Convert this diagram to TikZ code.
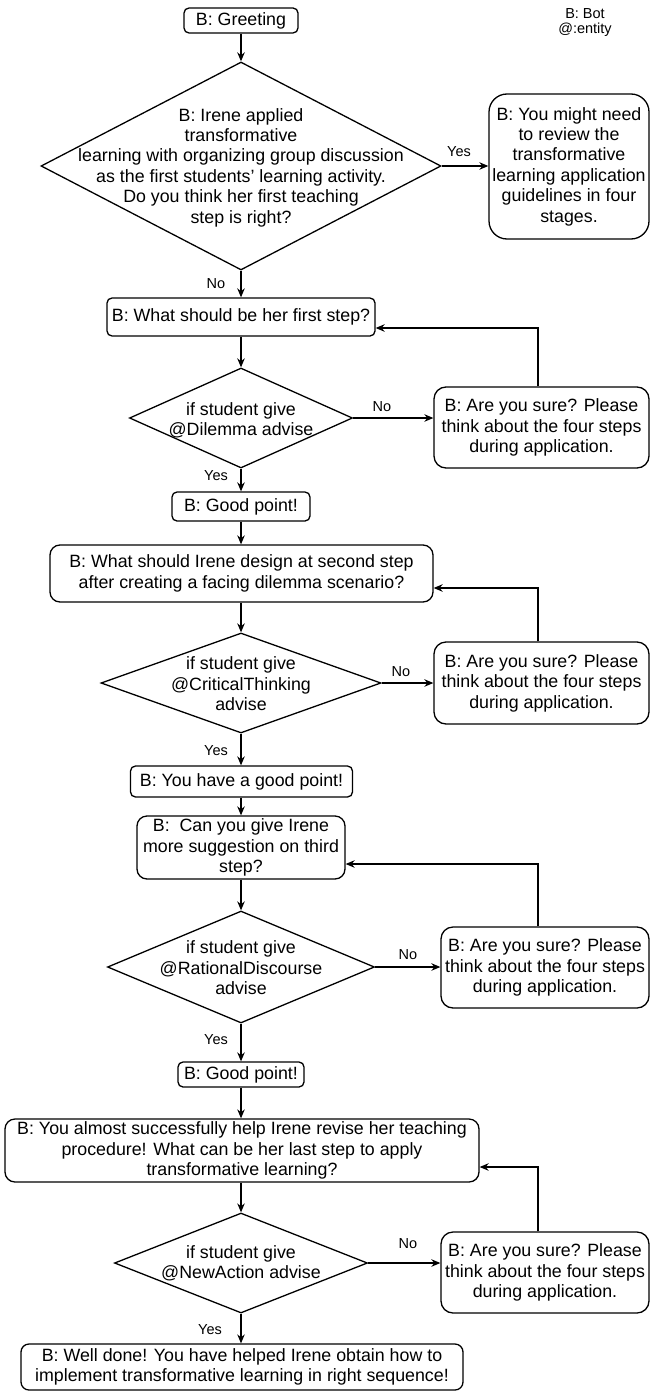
\documentclass[tikz,border=0pt]{standalone}
\usepackage{fontspec}
\setmainfont{Liberation Sans}
\usetikzlibrary{shapes.geometric,arrows.meta,calc}
\newcommand{\mainsz}{\fontsize{17.8}{20.4}\selectfont}
\newcommand{\lblsz}{\fontsize{14.5}{15}\selectfont}
\begin{document}
\begin{tikzpicture}[x=1pt,y=1pt,line width=1.3pt,
  box/.style={draw, rounded corners=5pt, align=center, inner sep=0pt, font=\mainsz},
  dia/.style={draw, diamond, inner sep=0pt},
  dtext/.style={align=center, inner sep=0pt, font=\mainsz},
  arr/.style={-{Stealth[length=9pt,width=7.5pt]}},
  lbl/.style={font=\lblsz, inner sep=0pt}]
\useasboundingbox (0,0) rectangle (650,-1391);

% legend
\node[lbl, align=center, font=\fontsize{14.5}{15}\selectfont] (legend) at (585,-22.5) {B: Bot\\@:entity};

% top
\node[box, minimum width=114, minimum height=25] (greet) at (241,-20.5) {B: Greeting};
\node[dia, minimum width=400, minimum height=208] (d1) at (241,-166) {};
\node[dtext] (t1) at (241,-167.5) {B: Irene applied\\transformative\\learning with organizing group discussion\\as the first students{\char"0027} learning activity.\\Do you think her first teaching\\step is right?};
\node[box, rounded corners=18pt, minimum width=160, minimum height=145] (yesbox) at (569,-166.5) {B: You might need\\to review the\\transformative\\learning application\\guidelines in four\\stages.};

% step 1
\node[box, minimum width=268, minimum height=38] (box2) at (241,-317) {B: What should be her first step?};
\node[dia, minimum width=223, minimum height=100] (d2) at (241,-418) {};
\node[dtext] (t2) at (241,-420) {if student give\\@Dilemma advise};
\node[box, rounded corners=12pt, minimum width=215, minimum height=81] (ays1) at (541.5,-427.5) {B: Are you sure? Please\\think about the four steps\\during application.};
\node[box, minimum width=138, minimum height=29] (gp1) at (241,-506.5) {B: Good point!};

% step 2
\node[box, rounded corners=10pt, minimum width=383, minimum height=57] (box3) at (241.5,-573.5) {B: What should Irene design at second step\\after creating a facing dilemma scenario?};
\node[dia, minimum width=280, minimum height=100] (d3) at (241,-683) {};
\node[dtext] (t3) at (241,-684) {if student give\\@CriticalThinking\\advise};
\node[box, rounded corners=12pt, minimum width=215, minimum height=82] (ays2) at (541.5,-683) {B: Are you sure? Please\\think about the four steps\\during application.};
\node[box, minimum width=222, minimum height=31] (gp2) at (241.5,-781.5) {B: You have a good point!};

% step 3
\node[box, rounded corners=10pt, minimum width=208, minimum height=63] (box4) at (241,-847.5) {B:\ \ Can you give Irene\\more suggestion on third\\step?};
\node[dia, minimum width=267, minimum height=112] (d4) at (241,-967) {};
\node[dtext] (t4) at (241,-968) {if student give\\@RationalDiscourse\\advise};
\node[box, rounded corners=12pt, minimum width=208, minimum height=81] (ays3) at (545,-967.5) {B: Are you sure? Please\\think about the four steps\\during application.};
\node[box, minimum width=126, minimum height=25] (gp3) at (241,-1074.5) {B: Good point!};

% step 4
\node[box, rounded corners=10pt, minimum width=474, minimum height=63] (box5) at (242,-1150.5) {B: You almost successfully help Irene revise her teaching\\procedure! What can be her last step to apply\\transformative learning?};
\node[dia, minimum width=253, minimum height=100] (d5) at (241,-1263) {};
\node[dtext] (t5) at (241,-1263) {if student give\\@NewAction advise};
\node[box, rounded corners=12pt, minimum width=208, minimum height=81] (ays4) at (545,-1272.5) {B: Are you sure? Please\\think about the four steps\\during application.};
\node[box, rounded corners=8pt, minimum width=442, minimum height=46] (final) at (242,-1367) {B: Well done! You have helped Irene obtain how to\\implement transformative learning in right sequence!};

% labels
\node[lbl] (lyes1) at (459,-152) {Yes};
\node[lbl] (lno1) at (216,-284) {No};
\node[lbl] (lno2) at (382,-407) {No};
\node[lbl] (lyes2) at (216,-476) {Yes};
\node[lbl] (lno3) at (401,-672) {No};
\node[lbl] (lyes3) at (216,-751) {Yes};
\node[lbl] (lno4) at (408,-955) {No};
\node[lbl] (lyes4) at (216,-1040) {Yes};
\node[lbl] (lno5) at (408,-1244) {No};
\node[lbl] (lyes5) at (210,-1330) {Yes};

% connectors
\draw[arr] (greet.south) -- (d1.north);
\draw[arr] (d1.east) -- (d1.east -| yesbox.west);
\draw[arr] (d1.south) -- (box2.north);
\draw[arr] (box2.south) -- (d2.north);
\draw[arr] (d2.east) -- (d2.east -| ays1.west);
\draw[arr] ([xshift=-3.5pt]ays1.north) |- ([yshift=-11pt]box2.east);
\draw[arr] (d2.south) -- (gp1.north);
\draw[arr] (gp1.south) -- (gp1.south |- box3.north);
\draw[arr] (box3.south -| d3.north) -- (d3.north);
\draw[arr] (d3.east) -- (d3.east -| ays2.west);
\draw[arr] ([xshift=-3.5pt]ays2.north) |- ([yshift=-14.5pt]box3.east);
\draw[arr] (d3.south) -- (d3.south |- gp2.north);
\draw[arr] (gp2.south -| box4.north) -- (box4.north);
\draw[arr] (box4.south) -- (d4.north);
\draw[arr] (d4.east) -- (d4.east -| ays3.west);
\draw[arr] ([xshift=-7pt]ays3.north) |- ([yshift=-16.5pt]box4.east);
\draw[arr] (d4.south) -- (gp3.north);
\draw[arr] (gp3.south) -- (gp3.south |- box5.north);
\draw[arr] (box5.south -| d5.north) -- (d5.north);
\draw[arr] (d5.east) -- (d5.east -| ays4.west);
\draw[arr] ([xshift=-7pt]ays4.north) |- ([yshift=-16.5pt]box5.east);
\draw[arr] (d5.south) -- (d5.south |- final.north);
\end{tikzpicture}
\end{document}
